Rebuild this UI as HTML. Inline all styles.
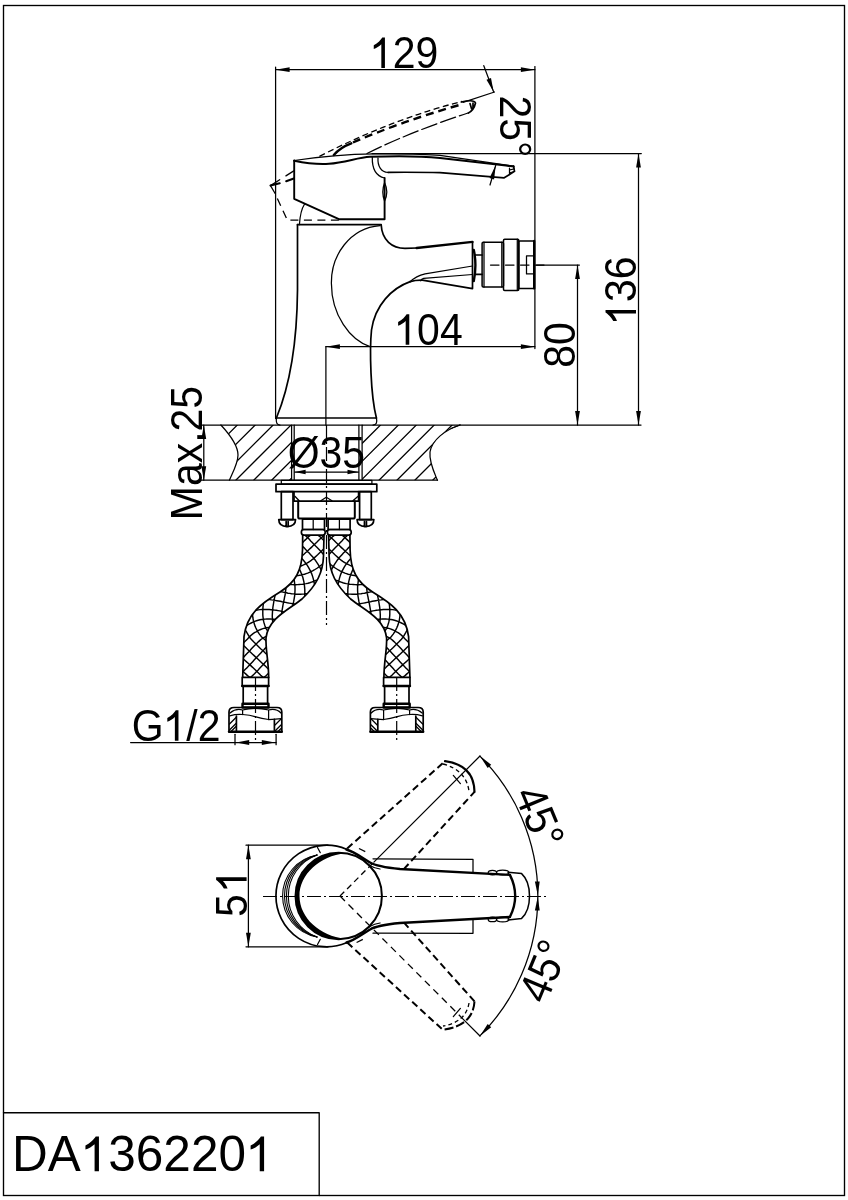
<!DOCTYPE html>
<html><head><meta charset="utf-8"><style>
html,body{margin:0;padding:0;background:#fff;}
svg{display:block;}
.l{fill:none;stroke:#000;stroke-width:1.25;stroke-linecap:round;stroke-linejoin:round}
.m{fill:none;stroke:#000;stroke-width:1.7;stroke-linecap:round;stroke-linejoin:round}
.k{fill:none;stroke:#000;stroke-width:2.4;stroke-linecap:round;stroke-linejoin:round}
.d{fill:none;stroke:#000;stroke-width:1.3;stroke-dasharray:7 4}
.dk{fill:none;stroke:#000;stroke-width:2.3;stroke-dasharray:7 4}
.c{fill:none;stroke:#000;stroke-width:1.2;stroke-dasharray:14 3 2 3}
.ar{fill:#000;stroke:none}
text{font-family:"Liberation Sans",sans-serif;fill:#000}
svg{will-change:transform}
</style></head>
<body><svg width="848" height="1200" viewBox="0 0 848 1200">
<rect x="3.5" y="5.5" width="841" height="1190" fill="none" stroke="#000" stroke-width="1.35"/>
<path class="l" style="stroke-width:1.35" d="M3.5,1112.7 H319.2 V1195.5"/>
<g transform="translate(404.15,68.05) rotate(0) scale(0.925,1)"><text font-size="44.3" text-anchor="middle"> 29</text><path fill="#000" d="M-20.78,0.00 L-24.67,0.00 L-24.67,-23.69 C-25.71,-22.71 -27.01,-21.85 -28.52,-20.98 C-30.03,-20.12 -31.55,-19.47 -32.85,-19.04 L-32.85,-22.71 C-30.68,-23.79 -28.74,-25.09 -27.11,-26.61 C-25.49,-28.12 -24.30,-29.42 -23.65,-30.48 L-20.78,-30.48 Z"/></g>
<g transform="translate(428.5,344.75) rotate(0) scale(0.925,1)"><text font-size="44.3" text-anchor="middle"> 04</text><path fill="#000" d="M-20.78,0.00 L-24.67,0.00 L-24.67,-23.69 C-25.71,-22.71 -27.01,-21.85 -28.52,-20.98 C-30.03,-20.12 -31.55,-19.47 -32.85,-19.04 L-32.85,-22.71 C-30.68,-23.79 -28.74,-25.09 -27.11,-26.61 C-25.49,-28.12 -24.30,-29.42 -23.65,-30.48 L-20.78,-30.48 Z"/></g>
<g transform="translate(500.0,126.4) rotate(90) scale(0.925,1)"><text font-size="44.3" text-anchor="middle">25°</text></g>
<g transform="translate(636.0,290.7) rotate(-90) scale(0.925,1)"><text font-size="44.3" text-anchor="middle"> 36</text><path fill="#000" d="M-20.78,0.00 L-24.67,0.00 L-24.67,-23.69 C-25.71,-22.71 -27.01,-21.85 -28.52,-20.98 C-30.03,-20.12 -31.55,-19.47 -32.85,-19.04 L-32.85,-22.71 C-30.68,-23.79 -28.74,-25.09 -27.11,-26.61 C-25.49,-28.12 -24.30,-29.42 -23.65,-30.48 L-20.78,-30.48 Z"/></g>
<g transform="translate(574.85,344.9) rotate(-90) scale(0.925,1)"><text font-size="44.3" text-anchor="middle">80</text></g>
<g transform="translate(201.85,453.05) rotate(-90) scale(0.925,1)"><text font-size="44.3" text-anchor="middle">Max.25</text></g>
<g transform="translate(326.35,468.45) rotate(0) scale(0.925,1)"><text font-size="44.3" text-anchor="middle">Ø35</text></g>
<g transform="translate(176.05,740.75) rotate(0) scale(0.925,1)"><text font-size="44.3" text-anchor="middle">G /2</text><path fill="#000" d="M2.62,0.00 L-1.28,0.00 L-1.28,-23.69 C-2.31,-22.71 -3.61,-21.85 -5.13,-20.98 C-6.64,-20.12 -8.15,-19.47 -9.45,-19.04 L-9.45,-22.71 C-7.29,-23.79 -5.34,-25.09 -3.72,-26.61 C-2.10,-28.12 -0.91,-29.42 -0.26,-30.48 L2.62,-30.48 Z"/></g>
<g transform="translate(246.6,892.25) rotate(-90) scale(0.925,1)"><text font-size="44.3" letter-spacing="2" text-anchor="middle">5 </text><path fill="#000" d="M16.18,0.00 L12.29,0.00 L12.29,-23.69 C11.25,-22.71 9.95,-21.85 8.44,-20.98 C6.92,-20.12 5.41,-19.47 4.11,-19.04 L4.11,-22.71 C6.27,-23.79 8.22,-25.09 9.84,-26.61 C11.46,-28.12 12.65,-29.42 13.30,-30.48 L16.18,-30.48 Z"/></g>
<g transform="translate(525.7,822.7) rotate(67.5) scale(0.925,1)"><text font-size="44.3" text-anchor="middle">45°</text></g>
<g transform="translate(557.65,976.75) rotate(-67.5) scale(0.925,1)"><text font-size="44.3" text-anchor="middle">45°</text></g>
<g transform="translate(12.1,1171.2) rotate(0) scale(0.984,1)"><text font-size="50.3">DA 36220 </text><path fill="#000" d="M88.25,0.00 L83.83,0.00 L83.83,-26.89 C82.65,-25.79 81.17,-24.81 79.45,-23.82 C77.73,-22.84 76.01,-22.10 74.54,-21.61 L74.54,-25.79 C77.00,-27.02 79.21,-28.49 81.05,-30.21 C82.89,-31.93 84.24,-33.40 84.98,-34.61 L88.25,-34.61 Z"/><path fill="#000" d="M256.09,0.00 L251.67,0.00 L251.67,-26.89 C250.49,-25.79 249.02,-24.81 247.30,-23.82 C245.58,-22.84 243.86,-22.10 242.39,-21.61 L242.39,-25.79 C244.84,-27.02 247.05,-28.49 248.90,-30.21 C250.74,-31.93 252.09,-33.40 252.83,-34.61 L256.09,-34.61 Z"/></g>
<path class="l" d="M275.6,67 L275.6,418.5"/>
<path class="l" d="M534.9,66.5 L534.9,348.5"/>
<path class="l" d="M275.6,69.7 L534.9,69.7"/>
<path class="ar" d="M275.6,69.7 L289.6,67.3 L289.6,72.1Z"/>
<path class="ar" d="M534.9,69.7 L520.9,72.1 L520.9,67.3Z"/>
<path class="l" d="M372,153.6 L641.3,153.6"/>
<path class="l" d="M638.5,153.6 L638.5,425"/>
<path class="ar" d="M638.5,153.6 L640.9,167.6 L636.1,167.6Z"/>
<path class="ar" d="M638.5,425.0 L636.1,411.0 L640.9,411.0Z"/>
<path class="l" d="M536.5,265 L579.4,265"/>
<path class="l" d="M577.5,265 L577.5,425"/>
<path class="ar" d="M577.5,265.0 L579.9,279.0 L575.1,279.0Z"/>
<path class="ar" d="M577.5,425.0 L575.1,411.0 L579.9,411.0Z"/>
<path class="l" d="M325.9,346.7 L534.9,346.7"/>
<path class="l" d="M325.9,346.7 L325.9,425"/>
<path class="ar" d="M325.9,346.7 L339.9,344.3 L339.9,349.1Z"/>
<path class="ar" d="M534.9,346.7 L520.9,349.1 L520.9,344.3Z"/>
<path class="l" d="M483.8,65.7 L493.7,92.1"/>
<path class="ar" d="M493.7,92.1 L486.5,79.8 L491.0,78.1Z"/>
<path class="l" d="M490,185 L495.7,165.3"/>
<path class="ar" d="M495.7,165.3 L494.1,179.4 L489.5,178.1Z"/>
<path class="l" d="M463,102.3 L494.5,92"/>
<path class="l" d="M200.4,425 L641,425"/>
<path class="l" d="M200.4,480.2 L437.5,480.2"/>
<path class="l" d="M203.8,425 L203.8,480.2"/>
<path class="ar" d="M203.8,425.0 L206.2,439.0 L201.4,439.0Z"/>
<path class="ar" d="M203.8,480.2 L201.4,466.2 L206.2,466.2Z"/>
<path class="l" d="M220.9,425 C232,437 238,446 238,455 C238,463 233,472 229.4,480.2"/>
<path class="l" d="M460,425 C445,430 432,440 430,452 C429,462 434,472 437.4,480.2"/>
<path class="l" d="M451,428.5 L460,425"/>
<path class="l" d="M291.6,425 L291.6,480.2"/>
<path class="l" d="M294.2,425 L294.2,480.2"/>
<path class="l" d="M358.9,425 L358.9,480.2"/>
<path class="l" d="M362.1,425 L362.1,480.2"/>
<clipPath id="hl"><path d="M220.9,425 C232,437 238,446 238,455 C238,463 233,472 229.4,480.2 L291.6,480.2 L291.6,425Z"/></clipPath>
<clipPath id="hr"><path d="M362.1,425 L460,425 C445,430 432,440 430,452 C429,462 434,472 437.4,480.2 L362.1,480.2Z"/></clipPath>
<path class="l" clip-path="url(#hl)" d="M183.6,425 L128.4,480.2 M201.5,425 L146.3,480.2 M219.4,425 L164.2,480.2 M237.3,425 L182.1,480.2 M255.2,425 L200.0,480.2 M273.1,425 L217.9,480.2 M291.0,425 L235.8,480.2 M308.9,425 L253.7,480.2 M326.8,425 L271.6,480.2 M344.7,425 L289.5,480.2 M362.6,425 L307.4,480.2 M380.5,425 L325.3,480.2 M398.4,425 L343.2,480.2 M416.3,425 L361.1,480.2 M434.2,425 L379.0,480.2 M452.1,425 L396.9,480.2 M470.0,425 L414.8,480.2 M487.9,425 L432.7,480.2"/>
<path class="l" clip-path="url(#hr)" d="M183.6,425 L128.4,480.2 M201.5,425 L146.3,480.2 M219.4,425 L164.2,480.2 M237.3,425 L182.1,480.2 M255.2,425 L200.0,480.2 M273.1,425 L217.9,480.2 M291.0,425 L235.8,480.2 M308.9,425 L253.7,480.2 M326.8,425 L271.6,480.2 M344.7,425 L289.5,480.2 M362.6,425 L307.4,480.2 M380.5,425 L325.3,480.2 M398.4,425 L343.2,480.2 M416.3,425 L361.1,480.2 M434.2,425 L379.0,480.2 M452.1,425 L396.9,480.2 M470.0,425 L414.8,480.2 M487.9,425 L432.7,480.2"/>
<path class="l" d="M294.6,472 L358.5,472"/>
<path class="ar" d="M294.6,472.0 L305.6,469.8 L305.6,474.2Z"/>
<path class="ar" d="M358.5,472.0 L347.5,474.2 L347.5,469.8Z"/>
<path class="m" d="M297.5,224.7 L297.5,290 C297,350 288,390 276.4,418"/>
<path class="m" d="M276.4,418 L376.4,418"/>
<path class="l" d="M276.4,418 Q275.5,425 280,425 M376.4,418 Q378,425 373,425"/>
<path class="m" d="M297.5,224.7 L381.2,224.7"/>
<path class="l" d="M380,225.6 C350,228 331,255 331.4,283.4 C331.5,315 350,340 370,346.6"/>
<path class="m" d="M410.2,281.6 C392,288 375,305 371.5,330 C369.5,350 370.5,395 376.4,418"/>
<path class="m" d="M381.2,225 C382,240 392,248.3 405,248.3 L416.6,248"/>
<path class="k" d="M416.6,248 L472.5,241.9"/>
<path class="m" d="M472.5,241.9 L472.5,288.6 L422.3,280.1 Q415,280 410.2,281.6"/>
<path class="l" d="M472.5,266 L425.1,273.8 Q416,276 410.2,281.6 M472.5,274.5 L423.7,278.3 Q421.5,279 420.8,280.8"/>
<path class="k" d="M473.8,250 Q477,265 473.8,281"/>
<path class="m" d="M475,255 L482.1,255 M475,274.4 L482.1,274.4"/>
<rect class="m" style="stroke-width:1.5" x="482.1" y="242.2" width="21.4" height="44.8" rx="1.2"/>
<rect class="m" style="stroke-width:1.5" x="503.5" y="239.2" width="15.3" height="51.2" rx="1.2"/>
<rect class="m" style="stroke-width:1.5" x="518.8" y="240.9" width="15.4" height="47.5" rx="1"/>
<path class="l" d="M501.8,242.2 L501.8,287 M517.3,239.2 L517.3,290.4 M484,242.2 L484,287"/>
<path class="k" d="M534.2,241 L534.2,288.4"/>
<rect class="l" x="526.5" y="255.9" width="7.7" height="18"/>
<path class="l" style="stroke-dasharray:8.5 6.5" d="M490.5,265 L548,265"/>
<path class="k" style="stroke-width:1.9" d="M294.2,160.5 L294.2,198.8 L338.9,219.2 L384.6,219.2 L384.6,178"/>
<path class="l" d="M294.2,160.5 C320,156.5 350,154.2 375,153.9 C400,153.7 425,153.9 440,155.4 L513.6,166.2"/>
<path class="k" style="stroke-width:2" d="M294.2,160.8 C305,163 318,164.5 329,163.8 C345,162.5 358,157.5 370,156.8 C395,156 420,156 440,157.9 L506,165.6 L513.6,166.6"/>
<path class="m" d="M388,172.3 C410,172.2 425,172.2 440,172.6 L504.2,177.8 L514.5,171.4 L513.6,166.2"/>
<path class="l" d="M509.5,168 L509.5,174.5 M509.5,170 L514,168.8 M509.5,173 L514,171.5"/>
<path class="l" d="M372.3,157.2 C372,168 376,176 384.6,178 M378,158 C377.5,166 381,172 388,172.5"/>
<path class="l" d="M384.6,182.8 Q389,192 384.6,201 Q381,192 384.6,182.8"/>
<path class="l" d="M299.4,224.7 C300,215 302,208 304.6,204"/>
<path class="d" style="stroke-dasharray:8 5.5" d="M338.9,220.2 L287.4,220.2 L274.7,192.7"/>
<path class="l" d="M274.7,192.7 L270.5,185.6 L279.7,179.7 M285.9,175.9 L293.8,170.9"/>
<path class="d" style="stroke-dasharray:6 3.5" d="M319.4,156.3 Q395,118 462,101.5"/>
<path class="k" style="stroke-width:2.1" d="M270.5,185.6 L279.7,183.3 M286.2,181.2 L293.8,178.6"/>
<path class="dk" style="stroke-width:2.4;stroke-dasharray:8 5" d="M353,142.5 Q400,122 461,104.5"/>
<path class="k" d="M333.8,155 Q340,147.5 351.3,143.3"/>
<path class="l" style="stroke-dasharray:16 4" d="M367,153.5 Q410,132 468,113"/>
<path class="m" d="M461.3,102 Q474,99 475.5,103 Q474,110 468.4,113 M470,103.5 L471.5,108.5 M473,103 L473,108"/>
<path class="c" d="M326.5,425 L326.5,625"/>
<rect class="l" x="281.3" y="480.4" width="90.6" height="3.8"/>
<rect class="m" x="276" y="484.2" width="100.8" height="7.5"/>
<rect class="m" x="281.3" y="491.7" width="11.7" height="27.9"/>
<rect class="m" x="359.6" y="491.7" width="11.7" height="27.9"/>
<path class="m" d="M278.75,519.6 L295.54999999999995,519.6 Q295.54999999999995,526.6 287.15,526.6 Q278.75,526.6 278.75,519.6 M286.15,521.5 L286.15,526.6 M288.15,521.5 L288.15,526.6"/>
<path class="m" d="M357.05,519.6 L373.84999999999997,519.6 Q373.84999999999997,526.6 365.45,526.6 Q357.05,526.6 357.05,519.6 M364.45,521.5 L364.45,526.6 M366.45,521.5 L366.45,526.6"/>
<path class="m" d="M294,491.7 L294,501.2 L358.6,501.2 L358.6,491.7"/>
<path class="l" d="M294.9,496.3 L299.2,500.8 M320.8,500.8 L326.3,497.3 L332,500.8 M352.9,500.8 L358.1,496.3"/>
<path class="k" style="stroke-width:2" d="M298.2,501.2 L298.2,517 Q298.2,518.6 300,518.6 L353,518.6 Q354.8,518.6 354.8,517 L354.8,501.2"/>
<rect class="m" x="302.5" y="519.2" width="22" height="10.3"/>
<rect class="m" x="328.1" y="519.2" width="22" height="10.3"/>
<path class="l" d="M313.2,519.2 L313.2,529.5"/>
<path class="l" d="M339.4,519.2 L339.4,529.5"/>
<rect class="m" x="301.4" y="529.5" width="23.8" height="5.6" rx="2.5"/>
<rect class="m" x="327.4" y="529.5" width="23.8" height="5.6" rx="2.5"/>
<clipPath id="hosel"><path d="M302.7,535 L302.5,550 C302,570 296,582 280,592 C262,603 247,613 244,636.7 L242.7,677.4 L268.7,677.4 C268.5,660 265.5,650 266,638 C268,618 290,609 302,599 C317,585 323,572 323.5,556 L324,535 Z"/></clipPath>
<path d="M298.3,533.6 L299.6,532.4 L300.8,531.2 L302.1,529.9 L303.3,528.7 L304.6,527.5 M298.1,546.8 L299.4,545.5 L300.7,544.3 L301.9,543.1 L303.2,541.9 L304.5,540.6 L305.8,539.4 L307.0,538.2 L308.3,536.9 L309.6,535.9 L310.8,535.0 L312.1,533.7 L313.3,532.5 L314.6,531.3 L315.8,530.0 L317.1,528.8 M297.5,558.6 L298.9,557.8 L300.2,557.0 L301.6,556.1 L302.9,555.1 L304.2,554.0 L305.5,552.8 L306.8,551.7 L308.1,550.5 L309.3,549.3 L310.6,548.1 L311.9,546.9 L313.2,545.6 L314.4,544.4 L315.7,543.2 L317.0,542.0 L318.2,540.7 L319.5,539.5 L320.8,538.3 L322.1,537.1 L323.3,536.1 L324.6,535.1 L325.8,533.8 L327.1,532.6 L328.3,531.4 M295.1,567.7 L296.6,567.4 L298.0,567.0 L299.5,566.5 L301.0,566.0 L302.5,565.4 L304.0,564.7 L305.4,564.0 L306.9,563.2 L308.3,562.3 L309.8,561.3 L311.2,560.3 L312.6,559.2 L313.9,558.1 L315.3,556.9 L316.6,555.7 L317.9,554.5 L319.2,553.2 L320.5,552.0 L321.8,550.7 L323.1,549.4 L324.4,548.2 L325.6,547.0 L326.9,545.7 L328.2,544.5 M290.1,575.9 L291.6,576.0 L293.2,576.0 L294.8,575.9 L296.4,575.8 L298.0,575.6 L299.6,575.3 L301.2,575.0 L302.8,574.6 L304.5,574.2 L306.1,573.6 L307.7,573.1 L309.4,572.4 L311.0,571.7 L312.6,570.9 L314.2,570.0 L315.8,569.0 L317.4,568.0 L318.9,566.9 L320.4,565.7 L321.9,564.5 L323.4,563.2 L324.8,561.9 L326.3,560.5 L327.6,559.1 M283.0,582.9 L284.6,583.2 L286.1,583.6 L287.7,583.9 L289.2,584.2 L290.8,584.5 L292.4,584.6 L294.1,584.7 L295.8,584.7 L297.5,584.6 L299.2,584.5 L300.9,584.4 L302.7,584.2 L304.4,583.9 L306.2,583.6 L308.0,583.2 L309.7,582.7 L311.5,582.1 L313.3,581.5 L315.1,580.8 L316.9,580.1 L318.7,579.2 L320.4,578.3 L322.2,577.3 L324.0,576.2 M272.6,590.0 L274.4,590.3 L276.2,590.6 L277.9,591.0 L279.6,591.3 L281.3,591.7 L283.0,592.1 L284.7,592.5 L286.4,592.8 L288.0,593.2 L289.8,593.4 L291.5,593.7 L293.2,593.9 L295.0,594.1 L296.8,594.2 L298.6,594.2 L300.5,594.2 L302.4,594.1 L304.2,593.9 L306.1,593.7 L308.0,593.5 L309.9,593.2 L311.8,592.8 L313.7,592.3 L315.7,591.8 M260.2,599.2 L262.1,599.2 L264.0,599.3 L266.0,599.3 L267.8,599.5 L269.7,599.6 L271.5,599.9 L273.3,600.1 L275.1,600.4 L276.8,600.7 L278.6,601.0 L280.3,601.3 L282.1,601.7 L283.8,602.0 L285.5,602.4 L287.3,602.8 L289.0,603.1 L290.8,603.4 L292.6,603.7 L294.4,604.0 L296.3,604.2 L298.1,604.4 L300.0,604.5 L301.9,604.6 L303.9,604.6 M248.4,612.4 L250.4,611.7 L252.4,611.1 L254.3,610.6 L256.3,610.2 L258.2,609.9 L260.1,609.6 L262.0,609.5 L263.9,609.4 L265.7,609.4 L267.5,609.4 L269.3,609.5 L271.1,609.7 L272.8,609.8 L274.6,610.1 L276.3,610.3 L278.0,610.6 L279.7,610.9 L281.4,611.2 L283.1,611.6 L284.7,611.9 L286.4,612.3 L288.1,612.7 L289.8,613.1 L291.4,613.5 M241.1,629.9 L242.7,628.5 L244.3,627.2 L246.0,626.0 L247.7,624.9 L249.4,623.9 L251.2,623.0 L252.9,622.2 L254.7,621.4 L256.5,620.8 L258.2,620.3 L260.0,619.8 L261.7,619.5 L263.5,619.2 L265.2,619.1 L266.9,619.0 L268.6,618.9 L270.3,619.0 L271.9,619.1 L273.5,619.2 L275.2,619.4 L276.8,619.6 L278.4,619.9 L280.0,620.2 L281.6,620.5 M239.9,646.8 L241.1,645.5 L242.4,644.2 L243.6,642.8 L244.9,641.5 L246.2,640.2 L247.5,638.9 L248.8,637.5 L250.2,636.1 L251.6,634.8 L253.1,633.7 L254.5,632.7 L256.1,631.8 L257.6,630.9 L259.1,630.1 L260.7,629.5 L262.2,628.9 L263.8,628.4 L265.4,628.0 L266.9,627.7 L268.5,627.5 L270.0,627.4 L271.5,627.3 L273.0,627.3 L274.5,627.4 M240.3,660.9 L241.5,659.6 L242.7,658.2 L243.9,656.9 L245.1,655.6 L246.3,654.3 L247.5,653.0 L248.8,651.7 L250.0,650.4 L251.2,649.1 L252.4,647.8 L253.6,646.5 L254.9,645.2 L256.1,644.0 L257.4,642.8 L258.6,641.6 L259.9,640.4 L261.2,639.2 L262.5,638.3 L263.8,637.6 L265.2,636.9 L266.6,636.2 L268.0,635.6 L269.4,635.1 L270.8,634.7 M240.7,673.9 L241.9,672.7 L243.2,671.5 L244.4,670.3 L245.6,669.1 L246.8,667.9 L248.1,666.6 L249.3,665.3 L250.5,664.0 L251.7,662.7 L252.9,661.4 L254.1,660.1 L255.3,658.8 L256.5,657.5 L257.7,656.3 L258.9,655.0 L260.1,653.7 L261.3,652.4 L262.5,651.1 L263.7,649.9 L264.9,648.6 L266.2,647.4 L267.4,646.2 L268.6,645.0 L269.9,643.9 M243.2,684.4 L244.5,683.2 L245.7,681.9 L247.0,680.7 L248.2,679.5 L249.5,678.2 L250.7,677.0 L252.0,676.1 L253.2,674.9 L254.5,673.7 L255.7,672.4 L256.9,671.2 L258.2,669.9 L259.4,668.6 L260.6,667.3 L261.8,666.0 L263.0,664.7 L264.2,663.4 L265.4,662.1 L266.6,660.7 L267.8,659.4 L269.0,658.1 L270.2,656.9 M257.0,684.3 L258.2,683.1 L259.5,681.8 L260.7,680.6 L262.0,679.3 L263.2,678.1 L264.5,676.9 L265.7,676.0 L267.0,674.8 L268.2,673.5 L269.4,672.1 L270.7,670.8 M324.6,528.2 L325.8,529.4 L327.1,530.7 L328.3,532.0 M310.8,527.8 L312.1,529.0 L313.3,530.3 L314.6,531.6 L315.8,532.8 L317.1,534.1 L318.3,535.4 L319.6,536.3 L320.8,537.5 L322.0,538.8 L323.3,540.0 L324.5,541.3 L325.7,542.6 L326.9,543.8 L328.2,545.1 M298.3,528.6 L299.6,529.9 L300.8,531.2 L302.1,532.4 L303.3,533.7 L304.6,535.0 L305.8,536.0 L307.1,537.1 L308.3,538.3 L309.5,539.6 L310.7,540.9 L312.0,542.2 L313.2,543.4 L314.4,544.7 L315.6,546.0 L316.9,547.3 L318.1,548.5 L319.3,549.8 L320.5,551.1 L321.8,552.5 L322.9,553.8 L324.1,555.2 L325.3,556.7 L326.5,558.2 L327.6,559.9 M298.2,541.8 L299.4,543.0 L300.7,544.3 L301.9,545.6 L303.1,546.9 L304.4,548.1 L305.6,549.4 L306.8,550.6 L308.0,551.9 L309.2,553.1 L310.4,554.4 L311.6,555.7 L312.8,557.0 L313.9,558.4 L315.0,559.8 L316.1,561.3 L317.1,562.8 L318.1,564.4 L319.1,566.0 L320.0,567.7 L320.9,569.4 L321.6,571.2 L322.4,573.1 L323.1,575.0 L323.7,577.0 M297.9,554.8 L299.1,555.9 L300.2,557.0 L301.4,558.1 L302.5,559.3 L303.6,560.5 L304.6,561.7 L305.7,563.1 L306.6,564.4 L307.6,565.8 L308.5,567.3 L309.3,568.8 L310.1,570.3 L310.9,571.9 L311.6,573.6 L312.2,575.3 L312.8,577.1 L313.3,578.9 L313.7,580.7 L314.2,582.6 L314.5,584.5 L314.8,586.4 L315.0,588.4 L315.2,590.4 L315.2,592.4 M296.3,564.5 L297.2,565.7 L298.0,567.0 L298.9,568.3 L299.6,569.7 L300.4,571.1 L301.0,572.6 L301.7,574.1 L302.2,575.7 L302.8,577.3 L303.2,579.0 L303.6,580.7 L304.0,582.4 L304.2,584.2 L304.5,585.9 L304.6,587.7 L304.8,589.6 L304.8,591.4 L304.8,593.3 L304.8,595.2 L304.7,597.1 L304.5,599.1 L304.2,601.1 L303.8,603.1 L303.3,605.0 M292.2,573.0 L292.7,574.5 L293.2,576.0 L293.6,577.5 L294.0,579.0 L294.3,580.7 L294.5,582.3 L294.7,584.0 L294.9,585.6 L295.0,587.3 L295.0,589.0 L295.0,590.8 L294.9,592.5 L294.8,594.3 L294.6,596.1 L294.3,597.9 L294.0,599.6 L293.7,601.4 L293.3,603.2 L292.9,605.0 L292.5,606.8 L292.1,608.6 L291.7,610.4 L291.3,612.1 L291.0,613.8 M285.8,580.6 L286.0,582.0 L286.1,583.6 L286.1,585.2 L286.1,586.8 L285.9,588.5 L285.7,590.2 L285.5,591.9 L285.3,593.6 L285.0,595.3 L284.6,597.0 L284.3,598.8 L283.9,600.5 L283.6,602.2 L283.2,603.9 L282.9,605.7 L282.6,607.4 L282.3,609.1 L282.0,610.8 L281.8,612.5 L281.6,614.2 L281.4,615.9 L281.2,617.5 L281.2,619.2 L281.2,620.8 M276.9,587.1 L276.6,588.9 L276.2,590.6 L275.8,592.4 L275.4,594.1 L275.0,595.9 L274.6,597.7 L274.2,599.4 L273.9,601.2 L273.6,603.0 L273.3,604.8 L273.0,606.5 L272.8,608.3 L272.6,610.0 L272.5,611.8 L272.4,613.5 L272.3,615.2 L272.3,616.9 L272.4,618.6 L272.5,620.2 L272.7,621.8 L273.0,623.3 L273.3,624.9 L273.8,626.3 L274.3,627.7 M264.8,595.5 L264.4,597.4 L264.0,599.3 L263.7,601.1 L263.5,603.0 L263.2,604.9 L263.0,606.8 L262.9,608.6 L262.8,610.5 L262.8,612.3 L262.8,614.2 L262.9,616.0 L263.1,617.7 L263.3,619.5 L263.6,621.2 L264.0,622.8 L264.5,624.4 L265.0,626.0 L265.7,627.4 L266.3,628.9 L267.1,630.2 L267.9,631.5 L268.8,632.8 L269.7,633.9 L270.7,635.0 M252.5,607.0 L252.4,609.1 L252.4,611.1 L252.4,613.2 L252.6,615.2 L252.8,617.2 L253.1,619.1 L253.5,621.0 L254.0,622.8 L254.5,624.6 L255.2,626.4 L255.9,628.0 L256.7,629.6 L257.5,631.2 L258.4,632.6 L259.4,634.1 L260.4,635.4 L261.4,636.7 L262.5,637.7 L263.7,638.7 L264.9,639.7 L266.2,640.9 L267.4,642.1 L268.6,643.3 L269.9,644.4 M243.0,623.2 L243.6,625.3 L244.3,627.2 L245.1,629.1 L246.0,631.0 L246.9,632.7 L247.9,634.4 L248.9,636.1 L250.0,637.7 L251.2,639.2 L252.4,640.5 L253.6,641.8 L254.9,643.0 L256.1,644.3 L257.4,645.5 L258.6,646.7 L259.9,648.0 L261.2,649.2 L262.5,650.3 L263.8,651.5 L265.0,652.7 L266.3,653.9 L267.6,655.1 L268.9,656.3 L270.2,657.5 M239.9,641.4 L241.1,642.8 L242.4,644.2 L243.6,645.5 L244.9,646.8 L246.2,648.1 L247.4,649.3 L248.7,650.6 L250.0,651.8 L251.3,653.0 L252.6,654.2 L253.9,655.4 L255.2,656.6 L256.5,657.8 L257.8,659.0 L259.1,660.2 L260.4,661.4 L261.7,662.7 L263.0,663.9 L264.3,665.1 L265.6,666.3 L266.8,667.6 L268.1,668.8 L269.4,670.1 L270.7,671.4 M240.1,655.8 L241.4,657.0 L242.7,658.2 L244.0,659.5 L245.3,660.7 L246.6,661.9 L247.9,663.0 L249.2,664.2 L250.5,665.4 L251.8,666.6 L253.1,667.8 L254.4,669.0 L255.7,670.2 L256.9,671.5 L258.2,672.7 L259.5,674.0 L260.7,675.2 L262.0,676.4 L263.2,677.3 L264.5,678.6 L265.7,679.8 L267.0,681.1 L268.2,682.3 L269.5,683.6 L270.7,684.8 M240.6,669.2 L241.9,670.4 L243.2,671.5 L244.4,672.7 L245.7,673.9 L247.0,675.1 L248.2,676.2 L249.5,677.1 L250.7,678.4 L252.0,679.6 L253.2,680.9 L254.5,682.1 L255.7,683.4 L257.0,684.6 M240.7,681.9 L242.0,683.2 L243.2,684.4" stroke="#000" stroke-width="1.45" fill="none" clip-path="url(#hosel)"/>
<path class="m" d="M302.7,535 L302.5,550 C302,570 296,582 280,592 C262,603 247,613 244,636.7 L242.7,677.4"/>
<path class="m" d="M324,535 L323.5,556 C323,572 317,585 302,599 C290,609 268,618 266,638 C265.5,650 268.5,660 268.7,677.4"/>
<g transform="translate(652.6,0) scale(-1,1)"><path d="M298.3,533.6 L299.6,532.4 L300.8,531.2 L302.1,529.9 L303.3,528.7 L304.6,527.5 M298.1,546.8 L299.4,545.5 L300.7,544.3 L301.9,543.1 L303.2,541.9 L304.5,540.6 L305.8,539.4 L307.0,538.2 L308.3,536.9 L309.6,535.9 L310.8,535.0 L312.1,533.7 L313.3,532.5 L314.6,531.3 L315.8,530.0 L317.1,528.8 M297.5,558.6 L298.9,557.8 L300.2,557.0 L301.6,556.1 L302.9,555.1 L304.2,554.0 L305.5,552.8 L306.8,551.7 L308.1,550.5 L309.3,549.3 L310.6,548.1 L311.9,546.9 L313.2,545.6 L314.4,544.4 L315.7,543.2 L317.0,542.0 L318.2,540.7 L319.5,539.5 L320.8,538.3 L322.1,537.1 L323.3,536.1 L324.6,535.1 L325.8,533.8 L327.1,532.6 L328.3,531.4 M295.1,567.7 L296.6,567.4 L298.0,567.0 L299.5,566.5 L301.0,566.0 L302.5,565.4 L304.0,564.7 L305.4,564.0 L306.9,563.2 L308.3,562.3 L309.8,561.3 L311.2,560.3 L312.6,559.2 L313.9,558.1 L315.3,556.9 L316.6,555.7 L317.9,554.5 L319.2,553.2 L320.5,552.0 L321.8,550.7 L323.1,549.4 L324.4,548.2 L325.6,547.0 L326.9,545.7 L328.2,544.5 M290.1,575.9 L291.6,576.0 L293.2,576.0 L294.8,575.9 L296.4,575.8 L298.0,575.6 L299.6,575.3 L301.2,575.0 L302.8,574.6 L304.5,574.2 L306.1,573.6 L307.7,573.1 L309.4,572.4 L311.0,571.7 L312.6,570.9 L314.2,570.0 L315.8,569.0 L317.4,568.0 L318.9,566.9 L320.4,565.7 L321.9,564.5 L323.4,563.2 L324.8,561.9 L326.3,560.5 L327.6,559.1 M283.0,582.9 L284.6,583.2 L286.1,583.6 L287.7,583.9 L289.2,584.2 L290.8,584.5 L292.4,584.6 L294.1,584.7 L295.8,584.7 L297.5,584.6 L299.2,584.5 L300.9,584.4 L302.7,584.2 L304.4,583.9 L306.2,583.6 L308.0,583.2 L309.7,582.7 L311.5,582.1 L313.3,581.5 L315.1,580.8 L316.9,580.1 L318.7,579.2 L320.4,578.3 L322.2,577.3 L324.0,576.2 M272.6,590.0 L274.4,590.3 L276.2,590.6 L277.9,591.0 L279.6,591.3 L281.3,591.7 L283.0,592.1 L284.7,592.5 L286.4,592.8 L288.0,593.2 L289.8,593.4 L291.5,593.7 L293.2,593.9 L295.0,594.1 L296.8,594.2 L298.6,594.2 L300.5,594.2 L302.4,594.1 L304.2,593.9 L306.1,593.7 L308.0,593.5 L309.9,593.2 L311.8,592.8 L313.7,592.3 L315.7,591.8 M260.2,599.2 L262.1,599.2 L264.0,599.3 L266.0,599.3 L267.8,599.5 L269.7,599.6 L271.5,599.9 L273.3,600.1 L275.1,600.4 L276.8,600.7 L278.6,601.0 L280.3,601.3 L282.1,601.7 L283.8,602.0 L285.5,602.4 L287.3,602.8 L289.0,603.1 L290.8,603.4 L292.6,603.7 L294.4,604.0 L296.3,604.2 L298.1,604.4 L300.0,604.5 L301.9,604.6 L303.9,604.6 M248.4,612.4 L250.4,611.7 L252.4,611.1 L254.3,610.6 L256.3,610.2 L258.2,609.9 L260.1,609.6 L262.0,609.5 L263.9,609.4 L265.7,609.4 L267.5,609.4 L269.3,609.5 L271.1,609.7 L272.8,609.8 L274.6,610.1 L276.3,610.3 L278.0,610.6 L279.7,610.9 L281.4,611.2 L283.1,611.6 L284.7,611.9 L286.4,612.3 L288.1,612.7 L289.8,613.1 L291.4,613.5 M241.1,629.9 L242.7,628.5 L244.3,627.2 L246.0,626.0 L247.7,624.9 L249.4,623.9 L251.2,623.0 L252.9,622.2 L254.7,621.4 L256.5,620.8 L258.2,620.3 L260.0,619.8 L261.7,619.5 L263.5,619.2 L265.2,619.1 L266.9,619.0 L268.6,618.9 L270.3,619.0 L271.9,619.1 L273.5,619.2 L275.2,619.4 L276.8,619.6 L278.4,619.9 L280.0,620.2 L281.6,620.5 M239.9,646.8 L241.1,645.5 L242.4,644.2 L243.6,642.8 L244.9,641.5 L246.2,640.2 L247.5,638.9 L248.8,637.5 L250.2,636.1 L251.6,634.8 L253.1,633.7 L254.5,632.7 L256.1,631.8 L257.6,630.9 L259.1,630.1 L260.7,629.5 L262.2,628.9 L263.8,628.4 L265.4,628.0 L266.9,627.7 L268.5,627.5 L270.0,627.4 L271.5,627.3 L273.0,627.3 L274.5,627.4 M240.3,660.9 L241.5,659.6 L242.7,658.2 L243.9,656.9 L245.1,655.6 L246.3,654.3 L247.5,653.0 L248.8,651.7 L250.0,650.4 L251.2,649.1 L252.4,647.8 L253.6,646.5 L254.9,645.2 L256.1,644.0 L257.4,642.8 L258.6,641.6 L259.9,640.4 L261.2,639.2 L262.5,638.3 L263.8,637.6 L265.2,636.9 L266.6,636.2 L268.0,635.6 L269.4,635.1 L270.8,634.7 M240.7,673.9 L241.9,672.7 L243.2,671.5 L244.4,670.3 L245.6,669.1 L246.8,667.9 L248.1,666.6 L249.3,665.3 L250.5,664.0 L251.7,662.7 L252.9,661.4 L254.1,660.1 L255.3,658.8 L256.5,657.5 L257.7,656.3 L258.9,655.0 L260.1,653.7 L261.3,652.4 L262.5,651.1 L263.7,649.9 L264.9,648.6 L266.2,647.4 L267.4,646.2 L268.6,645.0 L269.9,643.9 M243.2,684.4 L244.5,683.2 L245.7,681.9 L247.0,680.7 L248.2,679.5 L249.5,678.2 L250.7,677.0 L252.0,676.1 L253.2,674.9 L254.5,673.7 L255.7,672.4 L256.9,671.2 L258.2,669.9 L259.4,668.6 L260.6,667.3 L261.8,666.0 L263.0,664.7 L264.2,663.4 L265.4,662.1 L266.6,660.7 L267.8,659.4 L269.0,658.1 L270.2,656.9 M257.0,684.3 L258.2,683.1 L259.5,681.8 L260.7,680.6 L262.0,679.3 L263.2,678.1 L264.5,676.9 L265.7,676.0 L267.0,674.8 L268.2,673.5 L269.4,672.1 L270.7,670.8 M324.6,528.2 L325.8,529.4 L327.1,530.7 L328.3,532.0 M310.8,527.8 L312.1,529.0 L313.3,530.3 L314.6,531.6 L315.8,532.8 L317.1,534.1 L318.3,535.4 L319.6,536.3 L320.8,537.5 L322.0,538.8 L323.3,540.0 L324.5,541.3 L325.7,542.6 L326.9,543.8 L328.2,545.1 M298.3,528.6 L299.6,529.9 L300.8,531.2 L302.1,532.4 L303.3,533.7 L304.6,535.0 L305.8,536.0 L307.1,537.1 L308.3,538.3 L309.5,539.6 L310.7,540.9 L312.0,542.2 L313.2,543.4 L314.4,544.7 L315.6,546.0 L316.9,547.3 L318.1,548.5 L319.3,549.8 L320.5,551.1 L321.8,552.5 L322.9,553.8 L324.1,555.2 L325.3,556.7 L326.5,558.2 L327.6,559.9 M298.2,541.8 L299.4,543.0 L300.7,544.3 L301.9,545.6 L303.1,546.9 L304.4,548.1 L305.6,549.4 L306.8,550.6 L308.0,551.9 L309.2,553.1 L310.4,554.4 L311.6,555.7 L312.8,557.0 L313.9,558.4 L315.0,559.8 L316.1,561.3 L317.1,562.8 L318.1,564.4 L319.1,566.0 L320.0,567.7 L320.9,569.4 L321.6,571.2 L322.4,573.1 L323.1,575.0 L323.7,577.0 M297.9,554.8 L299.1,555.9 L300.2,557.0 L301.4,558.1 L302.5,559.3 L303.6,560.5 L304.6,561.7 L305.7,563.1 L306.6,564.4 L307.6,565.8 L308.5,567.3 L309.3,568.8 L310.1,570.3 L310.9,571.9 L311.6,573.6 L312.2,575.3 L312.8,577.1 L313.3,578.9 L313.7,580.7 L314.2,582.6 L314.5,584.5 L314.8,586.4 L315.0,588.4 L315.2,590.4 L315.2,592.4 M296.3,564.5 L297.2,565.7 L298.0,567.0 L298.9,568.3 L299.6,569.7 L300.4,571.1 L301.0,572.6 L301.7,574.1 L302.2,575.7 L302.8,577.3 L303.2,579.0 L303.6,580.7 L304.0,582.4 L304.2,584.2 L304.5,585.9 L304.6,587.7 L304.8,589.6 L304.8,591.4 L304.8,593.3 L304.8,595.2 L304.7,597.1 L304.5,599.1 L304.2,601.1 L303.8,603.1 L303.3,605.0 M292.2,573.0 L292.7,574.5 L293.2,576.0 L293.6,577.5 L294.0,579.0 L294.3,580.7 L294.5,582.3 L294.7,584.0 L294.9,585.6 L295.0,587.3 L295.0,589.0 L295.0,590.8 L294.9,592.5 L294.8,594.3 L294.6,596.1 L294.3,597.9 L294.0,599.6 L293.7,601.4 L293.3,603.2 L292.9,605.0 L292.5,606.8 L292.1,608.6 L291.7,610.4 L291.3,612.1 L291.0,613.8 M285.8,580.6 L286.0,582.0 L286.1,583.6 L286.1,585.2 L286.1,586.8 L285.9,588.5 L285.7,590.2 L285.5,591.9 L285.3,593.6 L285.0,595.3 L284.6,597.0 L284.3,598.8 L283.9,600.5 L283.6,602.2 L283.2,603.9 L282.9,605.7 L282.6,607.4 L282.3,609.1 L282.0,610.8 L281.8,612.5 L281.6,614.2 L281.4,615.9 L281.2,617.5 L281.2,619.2 L281.2,620.8 M276.9,587.1 L276.6,588.9 L276.2,590.6 L275.8,592.4 L275.4,594.1 L275.0,595.9 L274.6,597.7 L274.2,599.4 L273.9,601.2 L273.6,603.0 L273.3,604.8 L273.0,606.5 L272.8,608.3 L272.6,610.0 L272.5,611.8 L272.4,613.5 L272.3,615.2 L272.3,616.9 L272.4,618.6 L272.5,620.2 L272.7,621.8 L273.0,623.3 L273.3,624.9 L273.8,626.3 L274.3,627.7 M264.8,595.5 L264.4,597.4 L264.0,599.3 L263.7,601.1 L263.5,603.0 L263.2,604.9 L263.0,606.8 L262.9,608.6 L262.8,610.5 L262.8,612.3 L262.8,614.2 L262.9,616.0 L263.1,617.7 L263.3,619.5 L263.6,621.2 L264.0,622.8 L264.5,624.4 L265.0,626.0 L265.7,627.4 L266.3,628.9 L267.1,630.2 L267.9,631.5 L268.8,632.8 L269.7,633.9 L270.7,635.0 M252.5,607.0 L252.4,609.1 L252.4,611.1 L252.4,613.2 L252.6,615.2 L252.8,617.2 L253.1,619.1 L253.5,621.0 L254.0,622.8 L254.5,624.6 L255.2,626.4 L255.9,628.0 L256.7,629.6 L257.5,631.2 L258.4,632.6 L259.4,634.1 L260.4,635.4 L261.4,636.7 L262.5,637.7 L263.7,638.7 L264.9,639.7 L266.2,640.9 L267.4,642.1 L268.6,643.3 L269.9,644.4 M243.0,623.2 L243.6,625.3 L244.3,627.2 L245.1,629.1 L246.0,631.0 L246.9,632.7 L247.9,634.4 L248.9,636.1 L250.0,637.7 L251.2,639.2 L252.4,640.5 L253.6,641.8 L254.9,643.0 L256.1,644.3 L257.4,645.5 L258.6,646.7 L259.9,648.0 L261.2,649.2 L262.5,650.3 L263.8,651.5 L265.0,652.7 L266.3,653.9 L267.6,655.1 L268.9,656.3 L270.2,657.5 M239.9,641.4 L241.1,642.8 L242.4,644.2 L243.6,645.5 L244.9,646.8 L246.2,648.1 L247.4,649.3 L248.7,650.6 L250.0,651.8 L251.3,653.0 L252.6,654.2 L253.9,655.4 L255.2,656.6 L256.5,657.8 L257.8,659.0 L259.1,660.2 L260.4,661.4 L261.7,662.7 L263.0,663.9 L264.3,665.1 L265.6,666.3 L266.8,667.6 L268.1,668.8 L269.4,670.1 L270.7,671.4 M240.1,655.8 L241.4,657.0 L242.7,658.2 L244.0,659.5 L245.3,660.7 L246.6,661.9 L247.9,663.0 L249.2,664.2 L250.5,665.4 L251.8,666.6 L253.1,667.8 L254.4,669.0 L255.7,670.2 L256.9,671.5 L258.2,672.7 L259.5,674.0 L260.7,675.2 L262.0,676.4 L263.2,677.3 L264.5,678.6 L265.7,679.8 L267.0,681.1 L268.2,682.3 L269.5,683.6 L270.7,684.8 M240.6,669.2 L241.9,670.4 L243.2,671.5 L244.4,672.7 L245.7,673.9 L247.0,675.1 L248.2,676.2 L249.5,677.1 L250.7,678.4 L252.0,679.6 L253.2,680.9 L254.5,682.1 L255.7,683.4 L257.0,684.6 M240.7,681.9 L242.0,683.2 L243.2,684.4" stroke="#000" stroke-width="1.45" fill="none" clip-path="url(#hosel)"/><path class="m" d="M302.7,535 L302.5,550 C302,570 296,582 280,592 C262,603 247,613 244,636.7 L242.7,677.4"/><path class="m" d="M324,535 L323.5,556 C323,572 317,585 302,599 C290,609 268,618 266,638 C265.5,650 268.5,660 268.7,677.4"/></g>
<g><rect class="m" x="242.2" y="677.4" width="26.4" height="8.6"/><path class="k" d="M242.2,686 L268.6,686"/><path class="m" d="M243.2,686 L243.2,703.8 M267.6,686 L267.6,703.8"/><rect class="k" x="242.5" y="703.8" width="26" height="3.7"/><path class="m" d="M229,731.5 L229,712 Q229,707.5 234,707.5 L277,707.5 Q281.8,707.5 281.8,712 L281.8,731.5"/><path class="k" d="M229,731.7 L281.8,731.7"/><path class="l" d="M229.8,715.8 Q236,714 242.6,714.5 Q250,715 255,716.6 Q262,718.5 268.6,719.5 Q276,719.5 281.4,718.7"/><path class="l" d="M230,713 Q236,708 242.6,710 L242.6,714.5 M268.6,710 L268.6,719.5 M268.6,710 Q276,708 281,713 M242.6,710 Q255,706.5 268.6,710"/><path class="m" d="M236.4,716 L236.4,731.5 M274.4,719.3 L274.4,731.5"/><path class="l" d="M229.5,724 L236,717.5 M229.5,730 L236,723.5 M231,731.5 L236,726.5 M275,725 L281,719 M275,731 L281,725 M278,731.5 L281,728.5"/><path class="c" d="M255.5,677 L255.5,740"/></g>
<g transform="translate(652.2,0) scale(-1,1)"><rect class="m" x="242.2" y="677.4" width="26.4" height="8.6"/><path class="k" d="M242.2,686 L268.6,686"/><path class="m" d="M243.2,686 L243.2,703.8 M267.6,686 L267.6,703.8"/><rect class="k" x="242.5" y="703.8" width="26" height="3.7"/><path class="m" d="M229,731.5 L229,712 Q229,707.5 234,707.5 L277,707.5 Q281.8,707.5 281.8,712 L281.8,731.5"/><path class="k" d="M229,731.7 L281.8,731.7"/><path class="l" d="M229.8,715.8 Q236,714 242.6,714.5 Q250,715 255,716.6 Q262,718.5 268.6,719.5 Q276,719.5 281.4,718.7"/><path class="l" d="M230,713 Q236,708 242.6,710 L242.6,714.5 M268.6,710 L268.6,719.5 M268.6,710 Q276,708 281,713 M242.6,710 Q255,706.5 268.6,710"/><path class="m" d="M236.4,716 L236.4,731.5 M274.4,719.3 L274.4,731.5"/><path class="l" d="M229.5,724 L236,717.5 M229.5,730 L236,723.5 M231,731.5 L236,726.5 M275,725 L281,719 M275,731 L281,725 M278,731.5 L281,728.5"/><path class="c" d="M255.5,677 L255.5,740"/></g>
<path class="l" d="M130.6,742.6 L276.1,742.6"/>
<path class="l" d="M235,734.3 L235,744.7"/>
<path class="l" d="M276.1,734.3 L276.1,744.7"/>
<path class="ar" d="M236.2,742.6 L249.2,740.1 L249.2,745.1Z"/>
<path class="ar" d="M274.8,742.6 L261.8,745.1 L261.8,740.1Z"/>
<path class="l" d="M246,845.2 L328,845.2"/>
<path class="l" d="M246,946.8 L328,946.8"/>
<path class="l" d="M248.4,845.2 L248.4,946.8"/>
<path class="ar" d="M248.4,845.2 L250.8,859.2 L246.0,859.2Z"/>
<path class="ar" d="M248.4,946.8 L246.0,932.8 L250.8,932.8Z"/>
<path class="m" d="M346.5,849.2 A50.8,50.8 0 1 0 346.5,942.8"/>
<path class="l" style="stroke-width:1.1" d="M317,855 A41.63,41.63 0 0 0 317,937"/>
<path class="l" style="stroke-width:1.1" d="M317,855 A42.11,42.11 0 0 0 317,937"/>
<path class="l" style="stroke-width:1.1" d="M317,855 A42.77,42.77 0 0 0 317,937"/>
<path class="l" style="stroke-width:1.1" d="M317,855 A43.64,43.64 0 0 0 317,937"/>
<path class="l" d="M317.5,847.5 L320.3,852.7 M317.5,944.5 L320.3,939.3"/>
<circle class="m" style="stroke-width:2" cx="338.7" cy="896" r="43.2"/>
<path fill="#000" d="M345,853.2 A43.2,43.2 0 1 0 345,938.8 C320,936 299.5,918 299.5,896 C299.5,874 320,856 345,853.2Z"/>
<path class="l" d="M373,858.8 L473,859.3 L473,873.3 M373,933.2 L473,933.3 L473,919"/>
<path class="k" d="M346.5,849.5 C355,852 362,858 370,862.5 C375,865.5 385,867.5 400,869 L509.9,874.9"/>
<path class="k" d="M346.5,942.5 C355,940 362,934 370,929.5 C375,926.5 385,924.5 400,923 L509.9,917"/>
<path class="l" d="M362,858.5 C368,865 372,868 380,869 M362,933.5 C368,927 372,924 380,923"/>
<path class="k" d="M509.9,874.9 Q520.5,896 509.9,917"/>
<path class="m" style="stroke-width:1.5" d="M508,872.3 L521.6,873.6 C527.5,879 529.5,889 529.5,896 C529.5,903 527.5,913 521.6,918.4 L508,920"/>
<ellipse class="l" cx="492.4" cy="872.6" rx="4.2" ry="2.3"/><ellipse class="l" cx="502.7" cy="872.6" rx="6.2" ry="2.4"/>
<ellipse class="l" cx="492.4" cy="919.4" rx="4.2" ry="2.3"/><ellipse class="l" cx="502.7" cy="919.4" rx="6.2" ry="2.4"/>
<path class="c" d="M263,896.5 L546,896.5"/>
<path class="d" style="stroke-dasharray:6 4" d="M340,896 L373.9,862.1"/>
<path class="l" d="M373.9,862.1 L480.0,756.0"/>
<path class="d" style="stroke-dasharray:7 5" d="M340,896 L461.6,1017.6"/>
<path class="l" d="M461.6,1017.6 L480.0,1036.0"/>
<path class="dk" style="stroke-width:2" d="M347.2,848.5 L445,761.2"/>
<path class="dk" style="stroke-width:2" d="M403.8,869.2 L474.5,791.9"/>
<path class="k" style="stroke-width:2.2" d="M445,761.2 Q474,765 474.5,791.9"/>
<path class="d" style="stroke-dasharray:4 3" d="M443,764 Q466,770 469,791"/>
<path class="l" d="M453.3,775.4 L460.4,783.6"/>
<path class="d" d="M359,848.5 L368.4,853.2"/>
<path class="dk" style="stroke-width:2" d="M347.2,942.5 L442.7,1029.7"/>
<path class="dk" style="stroke-width:2" d="M403.8,922.4 L474.5,1001.4"/>
<path class="dk" style="stroke-width:2;stroke-dasharray:9 3" d="M474.5,1001.4 Q473,1026 442.7,1029.7"/>
<path class="d" style="stroke-dasharray:4 3" d="M469,1003 Q466,1022 443,1026"/>
<path class="l" d="M453.3,1016.6 L460.4,1008.4"/>
<path class="d" d="M356.6,942.5 L366,937.7"/>
<path class="l" d="M479.9,756.1 A197.8,197.8 0 0 1 479.9,1035.9"/>
<path class="ar" d="M479.9,756.1 L491.2,764.7 L487.7,768.0Z"/>
<path class="ar" d="M479.9,1035.9 L487.7,1024.0 L491.2,1027.3Z"/>
<path class="ar" d="M537.8,895.5 L534.9,881.6 L539.7,881.4Z"/>
<path class="ar" d="M537.8,896.5 L539.7,910.6 L534.9,910.4Z"/>
</svg></body></html>
